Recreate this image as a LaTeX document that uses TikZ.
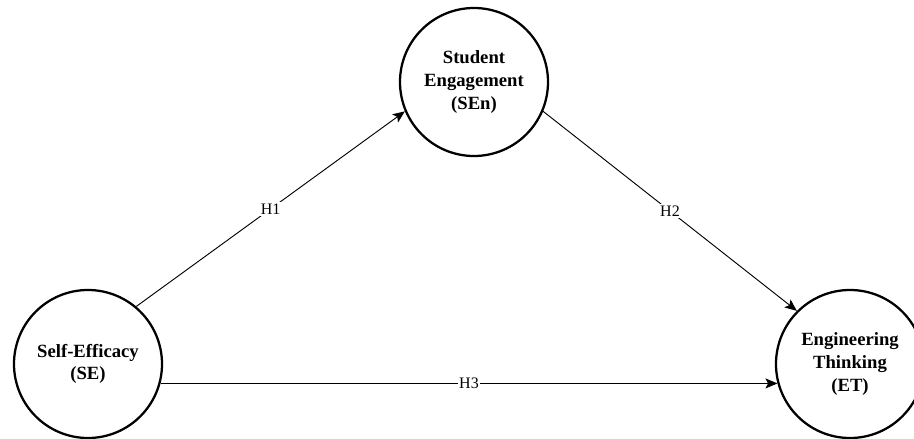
\documentclass[tikz,border=0pt]{standalone}
\usepackage{fontspec}
\setmainfont{Liberation Serif}
\usepackage{tikz}
\usetikzlibrary{arrows.meta}

\begin{document}
\begin{tikzpicture}[x=0.75pt, y=-0.75pt,
		construct/.style = {circle, draw, line width=1.7pt, minimum size=111pt, inner sep=0pt,
			align=center, font=\fontsize{14}{17}\selectfont\bfseries},
		path/.style = {line width=0.7pt, -{Stealth[length=9pt, width=7.5pt, inset=2pt]}},
		hyp/.style = {pos = 0.5, fill=white, inner sep=1pt, font=\fontsize{12}{14}\selectfont}]
			%\draw [help lines] (0,0) grid (914,439);
			\useasboundingbox (0,0) rectangle (914,439);
			\clip (0,0) rectangle (914,439);
			\node [construct] (se) at (88,364) {Self-Efficacy\\(SE)};
			\node [construct] (sen) at (474,82) {Student\\Engagement\\(SEn)};
			\node [construct] (et) at (850,364) {Engineering\\Thinking\\(ET)};
			\draw [path] (se.50) -- (sen.203) node [hyp] {H1};
			\draw [path] (sen.-23) -- (et.135) node [hyp] {H2};
			\draw [path] (se.-15) -- (et.195) node [hyp] {H3};
	\end{tikzpicture}
\end{document}
